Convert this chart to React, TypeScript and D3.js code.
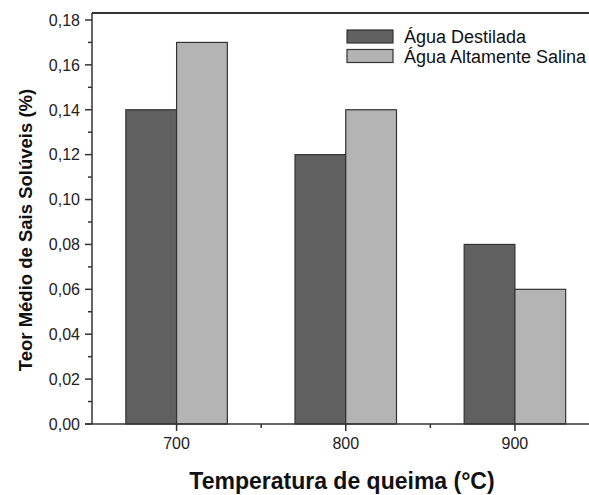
import React from "react";
import * as d3 from "d3";

const categories = [700, 800, 900];
const seriesNames = ["Água Destilada", "Água Altamente Salina"];
const destilada = [0.14, 0.12, 0.08];
const salina = [0.17, 0.14, 0.06];
const yTicks = [0, 0.02, 0.04, 0.06, 0.08, 0.1, 0.12, 0.14, 0.16, 0.18];
const yMinorTicks = [0.01, 0.03, 0.05, 0.07, 0.09, 0.11, 0.13, 0.15, 0.17];
const xMinorTicks = [750, 850];
const colors = ["#606060", "#b4b4b4"];

const W = 589;
const H = 495;

export default function App() {
  const x = d3.scaleLinear().domain([650, 950]).range([92, 599.5]);
  const y = d3.scaleLinear().domain([0, 0.1831]).range([424, 13]);
  const barW = 30;
  const series = [destilada, salina];
  const fmt = (v: number) => v.toFixed(2).replace(".", ",");
  const font = "'Liberation Sans', Arial, sans-serif";
  const stroke = "#333";

  return (
    <svg
      width={W}
      height={H}
      style={{ position: "absolute", left: 0, top: 0, background: "#fff", display: "block" }}
      fontFamily={font}
    >
      <rect x={0} y={0} width={W} height={H} fill="#fff" />
      {series.map((vals, si) =>
        vals.map((v, i) => {
          const c = categories[i];
          const x0 = si === 0 ? x(c - barW) : x(c);
          const x1 = si === 0 ? x(c) : x(c + barW);
          return (
            <rect
              key={`${si}-${i}`}
              x={x0}
              y={y(v)}
              width={x1 - x0}
              height={y(0) - y(v)}
              fill={colors[si]}
              stroke={stroke}
              strokeWidth={1.2}
            />
          );
        })
      )}
      {/* frame */}
      <line x1={x(650)} x2={x(950)} y1={y(0.1831)} y2={y(0.1831)} stroke={stroke} strokeWidth={2} />
      <line x1={x(950)} x2={x(950)} y1={y(0.1831)} y2={y(0)} stroke={stroke} strokeWidth={1.5} />
      <line x1={x(650)} x2={x(650)} y1={y(0.1831)} y2={y(0)} stroke={stroke} strokeWidth={1.5} />
      <line x1={x(650) - 7} x2={x(950)} y1={y(0)} y2={y(0)} stroke={stroke} strokeWidth={1.5} />
      {/* y ticks */}
      {yTicks.map((t) => (
        <g key={`yt${t}`}>
          <line x1={x(650) - 7} x2={x(650)} y1={y(t)} y2={y(t)} stroke={stroke} strokeWidth={1.5} />
          <text x={x(650) - 12} y={y(t)} dy="0.36em" textAnchor="end" fontSize={16} fill="#222">
            {fmt(t)}
          </text>
        </g>
      ))}
      {yMinorTicks.map((t) => (
        <line key={`ym${t}`} x1={x(650) - 4} x2={x(650)} y1={y(t)} y2={y(t)} stroke={stroke} strokeWidth={1.5} />
      ))}
      {/* x ticks */}
      {categories.map((c) => (
        <g key={`xt${c}`}>
          <line x1={x(c)} x2={x(c)} y1={y(0)} y2={y(0) + 7} stroke={stroke} strokeWidth={1.5} />
          <text x={x(c)} y={y(0) + 25} textAnchor="middle" fontSize={16} fill="#222">
            {c}
          </text>
        </g>
      ))}
      {xMinorTicks.map((c) => (
        <line key={`xm${c}`} x1={x(c)} x2={x(c)} y1={y(0)} y2={y(0) + 4} stroke={stroke} strokeWidth={1.5} />
      ))}
      {/* axis titles */}
      <text x={342} y={489} textAnchor="middle" fontSize={23} fontWeight="bold" fill="#111">
        Temperatura de queima (°C)
      </text>
      <text
        transform={`translate(32,230) rotate(-90)`}
        textAnchor="middle"
        fontSize={18.5}
        fontWeight="bold"
        fill="#111"
      >
        Teor Médio de Sais Solúveis (%)
      </text>
      {/* legend */}
      {seriesNames.map((n, i) => (
        <g key={n}>
          <rect x={347} y={30 + i * 19.5} width={46} height={13} fill={colors[i]} stroke={stroke} strokeWidth={1.2} />
          <text x={404} y={43 + i * 19.5} fontSize={18} fill="#111">
            {n}
          </text>
        </g>
      ))}
    </svg>
  );
}
